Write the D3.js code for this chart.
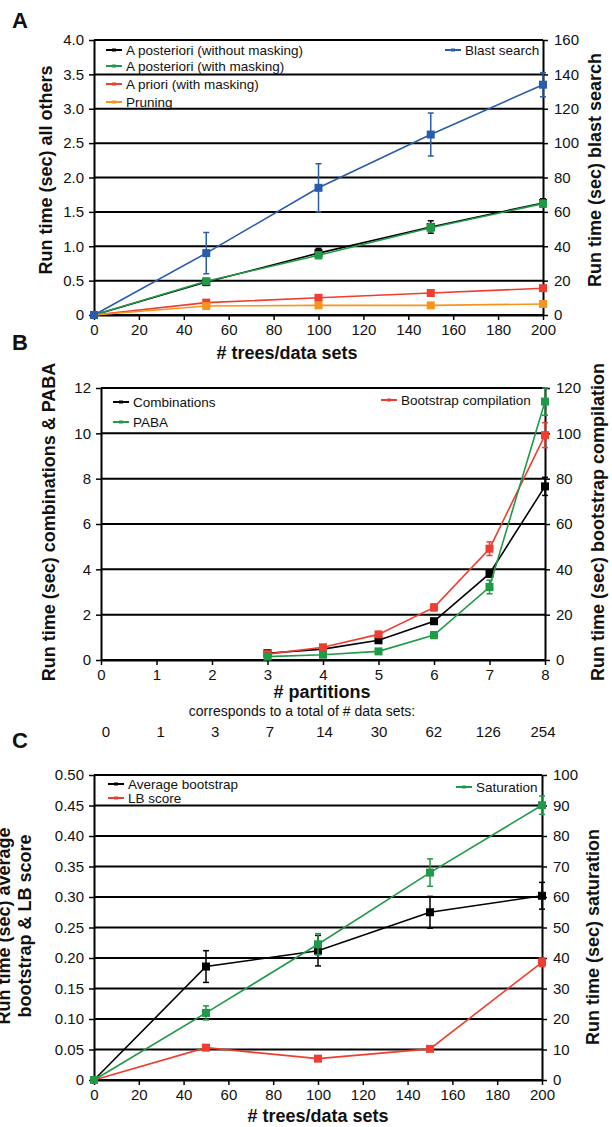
<!DOCTYPE html>
<html>
<head>
<meta charset="utf-8">
<script src="https://cdn.jsdelivr.net/npm/d3@7"></script>
<style>
  body { margin: 0; background: #fff; }
  text { font-family: Arial, "Liberation Sans", Helvetica, sans-serif; fill: #111; }
</style>
</head>
<body>
<svg id="fig" width="612" height="1127"></svg>
<script>
// ---- panel A: run time vs # trees/data sets ----
const treeCounts = [0, 50, 100, 150, 200];
const aPostNoMask = [0, 0.48, 0.90, 1.28, 1.63];
const aPostNoMaskErr = [0, 0.05, 0.07, 0.09, 0.06];
const aPostMask = [0, 0.49, 0.87, 1.27, 1.62];
const aPostMaskErr = [0, 0.04, 0.05, 0.06, 0.05];
const aPriori = [0, 0.18, 0.25, 0.32, 0.39];
const aPrioriErr = [0, 0.02, 0.01, 0.01, 0.01];
const pruning = [0, 0.13, 0.14, 0.14, 0.16];
const pruningErr = [0, 0.01, 0.01, 0.01, 0.01];
const blast = [0, 36, 74, 105, 134];
const blastErr = [0, 12, 14, 12.5, 7];
const aLeftTicks = [0, 0.5, 1.0, 1.5, 2.0, 2.5, 3.0, 3.5, 4.0];
const aRightTicks = [0, 20, 40, 60, 80, 100, 120, 140, 160];
const treeTicks = [0, 20, 40, 60, 80, 100, 120, 140, 160, 180, 200];

// ---- panel B: run time vs # partitions ----
const partitions = [3, 4, 5, 6, 7, 8];
const combinations = [0.30, 0.48, 0.87, 1.71, 3.81, 7.66];
const combinationsErr = [0.05, 0.05, 0.06, 0.08, 0.15, 0.4];
const paba = [0.15, 0.23, 0.38, 1.10, 3.22, 11.4];
const pabaErr = [0.03, 0.04, 0.05, 0.15, 0.3, 0.6];
const bootComp = [2.6, 5.6, 11.3, 23.2, 49.1, 99.2];
const bootCompErr = [0.5, 0.8, 1.0, 1.5, 3.0, 5.5];
const bLeftTicks = [0, 2, 4, 6, 8, 10, 12];
const bRightTicks = [0, 20, 40, 60, 80, 100, 120];
const partitionTicks = [0, 1, 2, 3, 4, 5, 6, 7, 8];
const dataSetTotals = ["0", "1", "3", "7", "14", "30", "62", "126", "254"];

// ---- panel C: run time vs # trees/data sets ----
const avgBootstrap = [0, 0.186, 0.212, 0.275, 0.302];
const avgBootstrapErr = [0, 0.026, 0.025, 0.026, 0.022];
const lbScore = [0, 0.053, 0.035, 0.051, 0.193];
const lbScoreErr = [0, 0.002, 0.002, 0.002, 0.007];
const saturation = [0, 22, 44.5, 68, 90.1];
const saturationErr = [0, 2.3, 3.5, 4.5, 3];
const cLeftTicks = [0, 0.05, 0.10, 0.15, 0.20, 0.25, 0.30, 0.35, 0.40, 0.45, 0.50];
const cRightTicks = [0, 10, 20, 30, 40, 50, 60, 70, 80, 90, 100];

const BLACK = "#000", GREEN = "#1f9a47", RED = "#ef3d2f", ORANGE = "#f7941d", BLUE = "#2a5cad";

const svg = d3.select("#fig");

function drawPanel(p) {
  const g = svg.append("g");
  const x = d3.scaleLinear().domain(p.xDomain).range([p.left, p.right]);
  const yL = d3.scaleLinear().domain(d3.extent(p.leftTicks)).range([p.bottom, p.top]);
  const yR = d3.scaleLinear().domain(d3.extent(p.rightTicks)).range([p.bottom, p.top]);

  // horizontal gridlines (black, heavy)
  g.selectAll("line.grid").data(p.leftTicks).join("line")
    .attr("class", "grid")
    .attr("x1", p.left).attr("x2", p.right)
    .attr("y1", d => yL(d)).attr("y2", d => yL(d))
    .attr("stroke", "#000").attr("stroke-width", 2);

  const styleAxis = sel => {
    sel.select(".domain").attr("stroke", "#000").attr("stroke-width", 2);
    sel.selectAll(".tick line").attr("stroke", "#000").attr("stroke-width", 1.5);
    sel.selectAll(".tick text").style("font-size", "15px").attr("fill", "#111");
  };

  g.append("g").attr("transform", `translate(${p.left},0)`)
    .call(d3.axisLeft(yL).tickValues(p.leftTicks).tickFormat(p.leftFormat)
      .tickSize(5).tickSizeOuter(0).tickPadding(5))
    .call(styleAxis);

  g.append("g").attr("transform", `translate(${p.right},0)`)
    .call(d3.axisRight(yR).tickValues(p.rightTicks).tickFormat(d3.format("d"))
      .tickSize(5).tickSizeOuter(0).tickPadding(6))
    .call(styleAxis);

  g.append("g").attr("transform", `translate(0,${p.bottom})`)
    .call(d3.axisBottom(x).tickValues(p.xTicks).tickFormat(d3.format("d"))
      .tickSize(5).tickSizeOuter(0).tickPadding(4))
    .call(styleAxis);

  // series: line, error bars, square markers
  p.series.forEach(s => {
    const y = s.axis === "right" ? yR : yL;
    const pts = s.y.map((v, i) => ({ x: s.x[i], y: v, e: s.err[i] }));
    const sg = g.append("g");
    sg.append("path").datum(pts)
      .attr("d", d3.line().x(d => x(d.x)).y(d => y(d.y)))
      .attr("fill", "none").attr("stroke", s.color).attr("stroke-width", 1.6);
    const eb = sg.selectAll("g.err").data(pts.filter(d => d.e > 0)).join("g");
    eb.append("line")
      .attr("x1", d => x(d.x)).attr("x2", d => x(d.x))
      .attr("y1", d => y(d.y - d.e)).attr("y2", d => y(d.y + d.e))
      .attr("stroke", s.color).attr("stroke-width", 1.5);
    [-1, 1].forEach(sign => {
      eb.append("line")
        .attr("x1", d => x(d.x) - 3).attr("x2", d => x(d.x) + 3)
        .attr("y1", d => y(d.y + sign * d.e)).attr("y2", d => y(d.y + sign * d.e))
        .attr("stroke", s.color).attr("stroke-width", 1.5);
    });
    sg.selectAll("rect").data(pts).join("rect")
      .attr("x", d => x(d.x) - 4).attr("y", d => y(d.y) - 4)
      .attr("width", 8).attr("height", 8)
      .attr("fill", s.color);
  });

  // legend
  p.legend.forEach(l => {
    g.append("line").attr("x1", l.x).attr("x2", l.x + 16)
      .attr("y1", l.y).attr("y2", l.y)
      .attr("stroke", l.color).attr("stroke-width", 2);
    g.append("rect").attr("x", l.x + 6).attr("y", l.y - 1.5)
      .attr("width", 4).attr("height", 3).attr("fill", l.color);
    g.append("text").attr("x", l.x + 20).attr("y", l.y).attr("dy", "0.35em")
      .style("font-size", "13.5px").text(l.label);
  });

  // panel letter
  g.append("text").attr("x", 12).attr("y", p.letterY)
    .style("font-size", "22px").style("font-weight", "bold").text(p.letter);

  // axis titles
  g.append("text").attr("x", p.xTitleX).attr("y", p.xTitleY)
    .attr("text-anchor", "middle").style("font-size", "18px").style("font-weight", "bold")
    .text(p.xTitle);

  p.leftTitle.forEach((t, i) => {
    g.append("text")
      .attr("transform", `translate(${p.leftTitleX[i]},${p.leftTitleY}) rotate(-90)`)
      .attr("text-anchor", "middle").attr("dy", "0.35em")
      .style("font-size", "18px").style("font-weight", "bold").text(t);
  });
  g.append("text")
    .attr("transform", `translate(${p.rightTitleX},${p.rightTitleY}) rotate(-90)`)
    .attr("text-anchor", "middle").attr("dy", "0.35em")
    .style("font-size", "18px").style("font-weight", "bold").text(p.rightTitle);
}

const fmt1 = d => d === 0 ? "0" : d3.format(".1f")(d);
const fmt2 = d => d === 0 ? "0" : d3.format(".2f")(d);

// panel A
drawPanel({
  letter: "A", letterY: 28,
  left: 94, right: 543, top: 40, bottom: 315,
  xDomain: [0, 200], xTicks: treeTicks,
  leftTicks: aLeftTicks, rightTicks: aRightTicks, leftFormat: fmt1,
  series: [
    { x: treeCounts, y: aPostNoMask, err: aPostNoMaskErr, color: BLACK, axis: "left" },
    { x: treeCounts, y: aPostMask, err: aPostMaskErr, color: GREEN, axis: "left" },
    { x: treeCounts, y: aPriori, err: aPrioriErr, color: RED, axis: "left" },
    { x: treeCounts, y: pruning, err: pruningErr, color: ORANGE, axis: "left" },
    { x: treeCounts, y: blast, err: blastErr, color: BLUE, axis: "right" }
  ],
  legend: [
    { label: "A posteriori (without masking)", color: BLACK, x: 106, y: 50 },
    { label: "A posteriori (with masking)", color: GREEN, x: 106, y: 66 },
    { label: "A priori (with masking)", color: RED, x: 106, y: 84 },
    { label: "Pruning", color: ORANGE, x: 106, y: 102 },
    { label: "Blast search", color: BLUE, x: 445, y: 50 }
  ],
  xTitle: "# trees/data sets", xTitleX: 287, xTitleY: 359,
  leftTitle: ["Run time (sec) all others"], leftTitleX: [46], leftTitleY: 170,
  rightTitle: "Run time (sec) blast search", rightTitleX: 595, rightTitleY: 170
});

// panel B
drawPanel({
  letter: "B", letterY: 350,
  left: 101, right: 545, top: 388, bottom: 660,
  xDomain: [0, 8], xTicks: partitionTicks,
  leftTicks: bLeftTicks, rightTicks: bRightTicks, leftFormat: d3.format("d"),
  series: [
    { x: partitions, y: combinations, err: combinationsErr, color: BLACK, axis: "left" },
    { x: partitions, y: bootComp, err: bootCompErr, color: RED, axis: "right" },
    { x: partitions, y: paba, err: pabaErr, color: GREEN, axis: "left" }
  ],
  legend: [
    { label: "Combinations", color: BLACK, x: 113, y: 402 },
    { label: "PABA", color: GREEN, x: 113, y: 422 },
    { label: "Bootstrap compilation", color: RED, x: 381, y: 400 }
  ],
  xTitle: "# partitions", xTitleX: 322, xTitleY: 698,
  leftTitle: ["Run time (sec) combinations & PABA"], leftTitleX: [49], leftTitleY: 522,
  rightTitle: "Run time (sec) bootstrap compilation", rightTitleX: 598, rightTitleY: 522
});

// data-set totals row under panel B
svg.append("text").attr("x", 302).attr("y", 716).attr("text-anchor", "middle")
  .style("font-size", "14px").text("corresponds to a total of # data sets:");
const totalsX = d3.scalePoint().domain(dataSetTotals).range([106, 543]);
svg.selectAll("text.total").data(dataSetTotals).join("text")
  .attr("class", "total")
  .attr("x", d => totalsX(d)).attr("y", 737).attr("text-anchor", "middle")
  .style("font-size", "15px").text(d => d);

// panel C
drawPanel({
  letter: "C", letterY: 748,
  left: 94, right: 542, top: 775, bottom: 1080,
  xDomain: [0, 200], xTicks: treeTicks,
  leftTicks: cLeftTicks, rightTicks: cRightTicks, leftFormat: fmt2,
  series: [
    { x: treeCounts, y: avgBootstrap, err: avgBootstrapErr, color: BLACK, axis: "left" },
    { x: treeCounts, y: lbScore, err: lbScoreErr, color: RED, axis: "left" },
    { x: treeCounts, y: saturation, err: saturationErr, color: GREEN, axis: "right" }
  ],
  legend: [
    { label: "Average bootstrap", color: BLACK, x: 108, y: 784 },
    { label: "LB score", color: RED, x: 108, y: 798 },
    { label: "Saturation", color: GREEN, x: 456, y: 787 }
  ],
  xTitle: "# trees/data sets", xTitleX: 318, xTitleY: 1122,
  leftTitle: ["Run time (sec) average", "bootstrap & LB score"], leftTitleX: [4, 25], leftTitleY: 926,
  rightTitle: "Run time (sec) saturation", rightTitleX: 593, rightTitleY: 937
});
</script>
</body>
</html>
